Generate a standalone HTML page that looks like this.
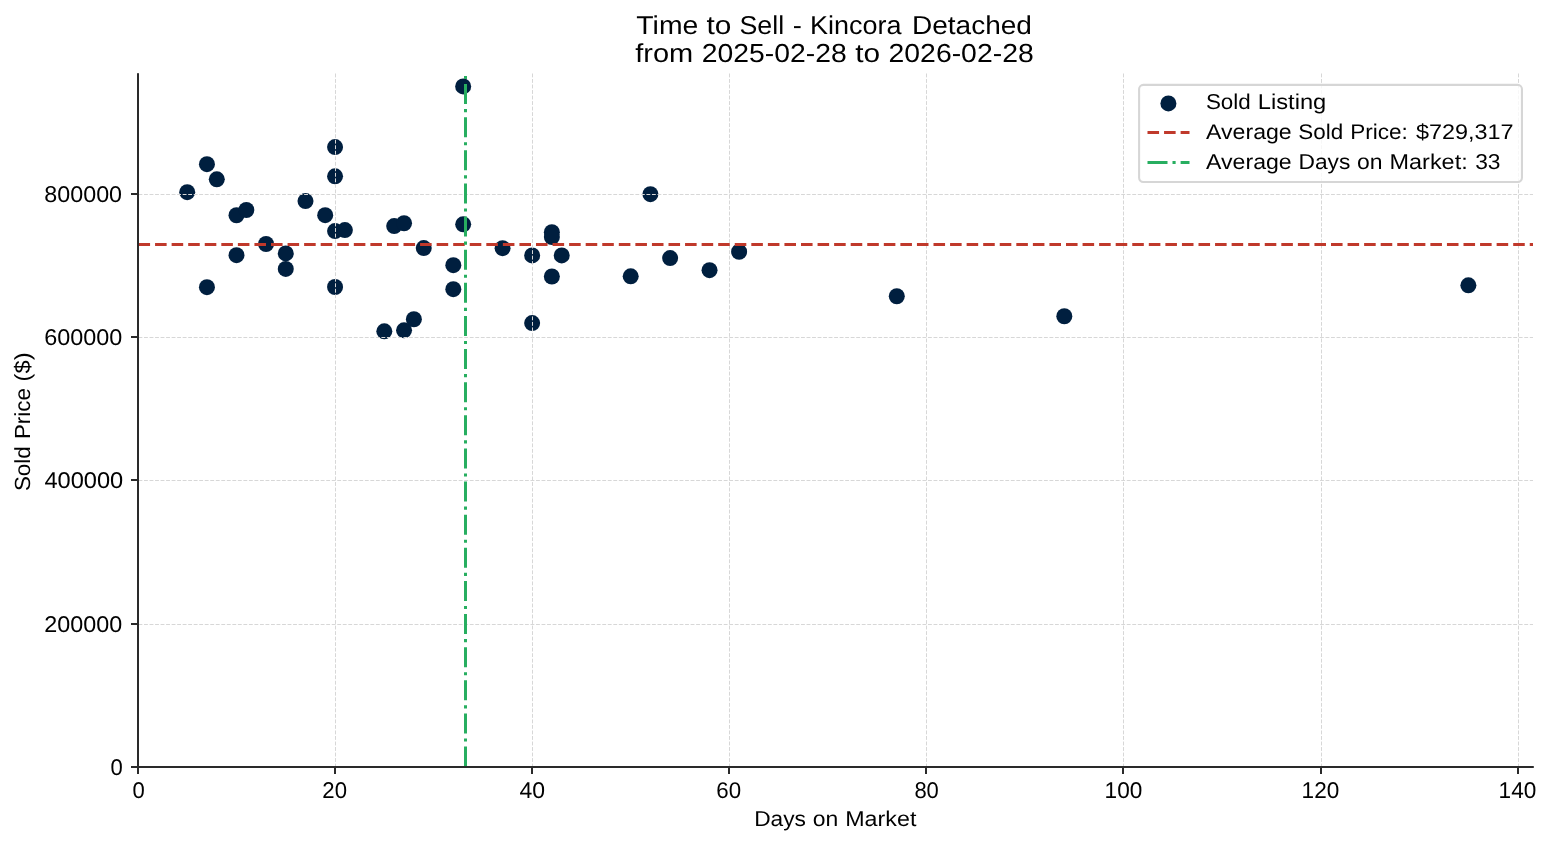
<!DOCTYPE html>
<html><head><meta charset="utf-8"><title>Time to Sell - Kincora Detached</title><style>html,body{margin:0;padding:0;background:#fff;width:1552px;height:845px;overflow:hidden}svg text{font-family:"Liberation Sans",sans-serif;text-rendering:geometricPrecision}</style></head><body>
<svg width="1552" height="845" viewBox="0 0 1552 845" font-family="'Liberation Sans', sans-serif" fill="#000" style="display:block"><rect x="0" y="0" width="1552" height="845" fill="#ffffff"/>
<g fill="#001f3f">
<circle cx="187.22" cy="192.21" r="8.0"/>
<circle cx="206.94" cy="164.20" r="8.0"/>
<circle cx="206.94" cy="287.18" r="8.0"/>
<circle cx="216.79" cy="179.32" r="8.0"/>
<circle cx="236.50" cy="215.27" r="8.0"/>
<circle cx="236.50" cy="255.17" r="8.0"/>
<circle cx="246.35" cy="209.97" r="8.0"/>
<circle cx="266.06" cy="243.99" r="8.0"/>
<circle cx="285.77" cy="253.38" r="8.0"/>
<circle cx="285.77" cy="268.92" r="8.0"/>
<circle cx="305.49" cy="201.09" r="8.0"/>
<circle cx="325.19" cy="215.20" r="8.0"/>
<circle cx="335.05" cy="147.09" r="8.0"/>
<circle cx="335.05" cy="176.31" r="8.0"/>
<circle cx="335.05" cy="231.10" r="8.0"/>
<circle cx="335.05" cy="286.97" r="8.0"/>
<circle cx="344.90" cy="230.10" r="8.0"/>
<circle cx="384.32" cy="331.31" r="8.0"/>
<circle cx="394.18" cy="226.09" r="8.0"/>
<circle cx="404.04" cy="223.22" r="8.0"/>
<circle cx="404.04" cy="330.37" r="8.0"/>
<circle cx="413.89" cy="319.27" r="8.0"/>
<circle cx="423.75" cy="248.08" r="8.0"/>
<circle cx="453.31" cy="265.20" r="8.0"/>
<circle cx="453.31" cy="289.19" r="8.0"/>
<circle cx="463.17" cy="86.42" r="8.0"/>
<circle cx="463.17" cy="224.37" r="8.0"/>
<circle cx="502.58" cy="248.15" r="8.0"/>
<circle cx="532.15" cy="255.38" r="8.0"/>
<circle cx="532.15" cy="323.07" r="8.0"/>
<circle cx="551.86" cy="232.18" r="8.0"/>
<circle cx="551.86" cy="236.98" r="8.0"/>
<circle cx="551.86" cy="276.51" r="8.0"/>
<circle cx="561.72" cy="255.38" r="8.0"/>
<circle cx="630.70" cy="276.30" r="8.0"/>
<circle cx="650.41" cy="194.21" r="8.0"/>
<circle cx="670.12" cy="258.10" r="8.0"/>
<circle cx="709.54" cy="270.21" r="8.0"/>
<circle cx="739.11" cy="251.73" r="8.0"/>
<circle cx="896.79" cy="296.28" r="8.0"/>
<circle cx="1064.32" cy="316.26" r="8.0"/>
<circle cx="1468.38" cy="285.32" r="8.0"/>
</g>
<g stroke="#d7d7d7" stroke-width="1" stroke-dasharray="3.854 1.667" fill="none">
<line x1="335.5" y1="73.5" x2="335.5" y2="766.5"/>
<line x1="532.5" y1="73.5" x2="532.5" y2="766.5"/>
<line x1="729.5" y1="73.5" x2="729.5" y2="766.5"/>
<line x1="926.5" y1="73.5" x2="926.5" y2="766.5"/>
<line x1="1123.5" y1="73.5" x2="1123.5" y2="766.5"/>
<line x1="1321.5" y1="73.5" x2="1321.5" y2="766.5"/>
<line x1="1518.5" y1="73.5" x2="1518.5" y2="766.5"/>
<line x1="138.5" y1="194.5" x2="1533.00" y2="194.5"/>
<line x1="138.5" y1="337.5" x2="1533.00" y2="337.5"/>
<line x1="138.5" y1="480.5" x2="1533.00" y2="480.5"/>
<line x1="138.5" y1="624.5" x2="1533.00" y2="624.5"/>
</g>
<line x1="138.5" y1="244.5" x2="1533.00" y2="244.5" stroke="#c0392b" stroke-width="3" stroke-dasharray="11.5625 5"/>
<line x1="465.5" y1="766.5" x2="465.5" y2="73.5" stroke="#27ae60" stroke-width="3" stroke-dasharray="20 5 3.125 5"/>
<g fill="#2a2a2a">
<rect x="137" y="73.2" width="2" height="694.8"/>
<rect x="137" y="766" width="1396.8" height="2"/>
<rect x="137" y="768" width="2" height="6"/>
<rect x="334" y="768" width="2" height="6"/>
<rect x="531" y="768" width="2" height="6"/>
<rect x="728" y="768" width="2" height="6"/>
<rect x="925" y="768" width="2" height="6"/>
<rect x="1122" y="768" width="2" height="6"/>
<rect x="1320" y="768" width="2" height="6"/>
<rect x="1517" y="768" width="2" height="6"/>
<rect x="131" y="193" width="6" height="2"/>
<rect x="131" y="336" width="6" height="2"/>
<rect x="131" y="479" width="6" height="2"/>
<rect x="131" y="623" width="6" height="2"/>
<rect x="131" y="766" width="6" height="2"/>
</g>
<rect x="1139.1" y="84.9" width="382.85" height="97.05" rx="4.17" ry="4.17" fill="#ffffff" fill-opacity="0.8" stroke="#d6d6d6" stroke-width="2.08"/>
<circle cx="1168.4" cy="103.4" r="8.0" fill="#001f3f"/>
<line x1="1147.5" y1="132.5" x2="1189.5" y2="132.5" stroke="#c0392b" stroke-width="3" stroke-dasharray="11.5625 5"/>
<line x1="1147.5" y1="162.5" x2="1189.5" y2="162.5" stroke="#27ae60" stroke-width="3" stroke-dasharray="20 5 3.125 5"/>
<g opacity="0.999">
<text transform="translate(636.35 33.76) scale(1.0752 0.9820)" font-size="26.38">Time</text>
<text transform="translate(706.52 33.76) scale(1.1307 0.9820)" font-size="26.38">to</text>
<text transform="translate(739.48 33.76) scale(1.0163 0.9820)" font-size="26.38">Sell</text>
<text transform="translate(792.63 33.76) scale(1.0374 0.9820)" font-size="26.38">-</text>
<text transform="translate(810.02 33.76) scale(1.0232 0.9820)" font-size="26.38">Kincora</text>
<text transform="translate(911.93 33.76) scale(1.0631 0.9820)" font-size="26.38">Detached</text>
<text transform="translate(635.19 61.76) scale(1.0997 0.9874)" font-size="26.38">from</text>
<text transform="translate(701.80 61.76) scale(1.0739 0.9874)" font-size="26.38">2025-02-28</text>
<text transform="translate(855.27 61.76) scale(1.1307 0.9874)" font-size="26.38">to</text>
<text transform="translate(888.55 61.76) scale(1.0758 0.9874)" font-size="26.38">2026-02-28</text>
<text transform="translate(132.52 797.81) scale(1.0019 1.0396)" font-size="21.98">0</text>
<text transform="translate(322.36 797.80) scale(1.0080 1.0374)" font-size="21.98">20</text>
<text transform="translate(519.46 797.80) scale(1.0459 1.0392)" font-size="21.98">40</text>
<text transform="translate(716.33 797.76) scale(1.0144 1.0341)" font-size="21.98">60</text>
<text transform="translate(914.39 797.77) scale(1.0012 1.0364)" font-size="21.98">80</text>
<text transform="translate(1104.59 797.79) scale(1.0270 1.0384)" font-size="21.98">100</text>
<text transform="translate(1301.59 797.79) scale(1.0270 1.0374)" font-size="21.98">120</text>
<text transform="translate(1498.59 797.79) scale(1.0270 1.0384)" font-size="21.98">140</text>
<text transform="translate(110.52 774.81) scale(1.0019 1.0396)" font-size="21.98">0</text>
<text transform="translate(44.29 631.79) scale(1.0621 1.0367)" font-size="21.98">200000</text>
<text transform="translate(44.45 487.79) scale(1.0738 1.0384)" font-size="21.98">400000</text>
<text transform="translate(44.27 344.77) scale(1.0641 1.0351)" font-size="21.98">600000</text>
<text transform="translate(44.34 201.77) scale(1.0598 1.0364)" font-size="21.98">800000</text>
<text transform="translate(754.14 825.62) scale(1.0341 0.9765)" font-size="21.98">Days</text>
<text transform="translate(812.73 825.62) scale(1.0446 0.9765)" font-size="21.98">on</text>
<text transform="translate(845.21 825.62) scale(1.0597 0.9765)" font-size="21.98">Market</text>
<text transform="translate(29.90 491.06) rotate(-90) scale(1.0188 0.9950)" font-size="21.98">Sold</text>
<text transform="translate(29.90 439.08) rotate(-90) scale(1.0168 0.9950)" font-size="21.98">Price</text>
<text transform="translate(29.90 381.38) rotate(-90) scale(1.0806 0.9950)" font-size="21.98">($)</text>
<text transform="translate(1205.94 108.64) scale(1.0191 0.9776)" font-size="21.98">Sold</text>
<text transform="translate(1257.81 108.64) scale(1.0779 0.9776)" font-size="21.98">Listing</text>
<text transform="translate(1206.06 138.68) scale(1.0519 0.9668)" font-size="21.98">Average</text>
<text transform="translate(1298.31 138.68) scale(1.0191 0.9668)" font-size="21.98">Sold</text>
<text transform="translate(1350.28 138.68) scale(1.0256 0.9668)" font-size="21.98">Price:</text>
<text transform="translate(1416.01 138.68) scale(1.0650 0.9668)" font-size="21.98">$729,317</text>
<text transform="translate(1206.06 168.62) scale(1.0519 0.9766)" font-size="21.98">Average</text>
<text transform="translate(1298.51 168.62) scale(1.0341 0.9766)" font-size="21.98">Days</text>
<text transform="translate(1357.10 168.62) scale(1.0446 0.9766)" font-size="21.98">on</text>
<text transform="translate(1389.58 168.62) scale(1.0660 0.9766)" font-size="21.98">Market:</text>
<text transform="translate(1475.16 168.62) scale(1.0377 0.9766)" font-size="21.98">33</text>
</g></svg>
</body></html>
